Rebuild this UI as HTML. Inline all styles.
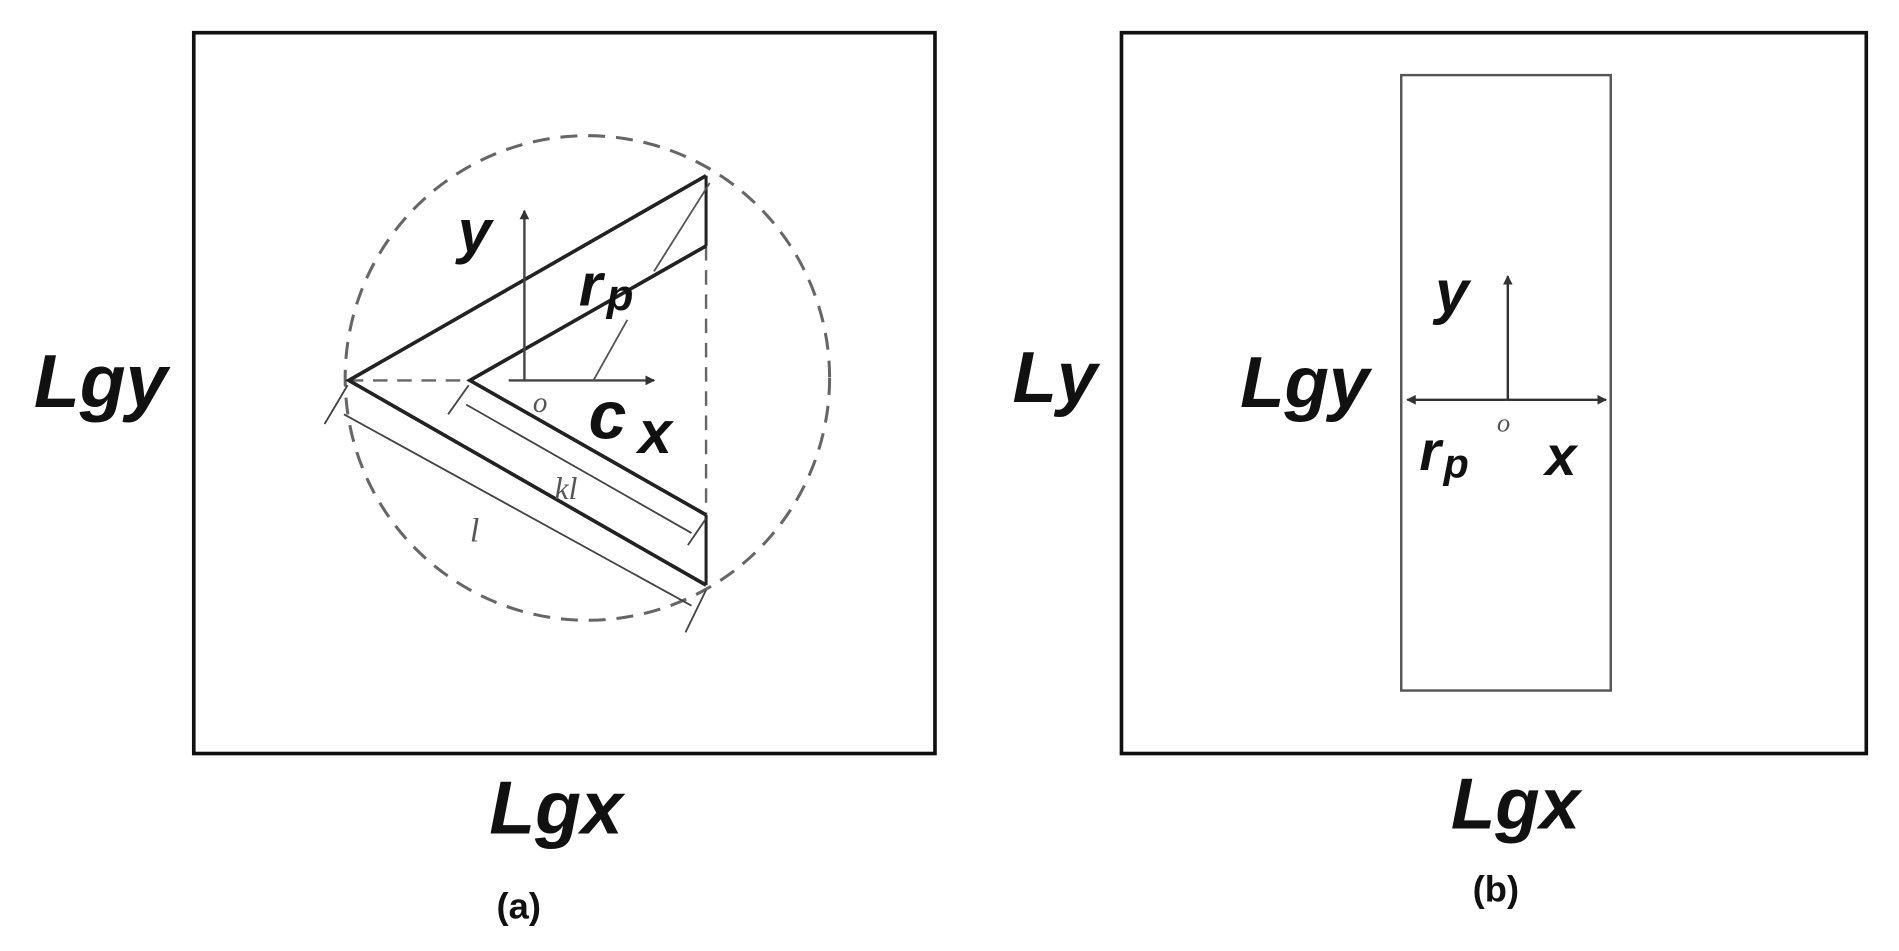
<!DOCTYPE html>
<html><head><meta charset="utf-8"><style>
html,body{margin:0;padding:0;background:#fff;width:1899px;height:951px;overflow:hidden}
svg{display:block}
.b{font-family:"Liberation Sans",sans-serif;font-weight:bold;font-style:italic;fill:#111}
.s{font-family:"Liberation Serif",serif;font-style:italic;fill:#555}
</style></head><body>
<svg width="1899" height="951" viewBox="0 0 1568 785" preserveAspectRatio="none" xmlns="http://www.w3.org/2000/svg">
<defs>
<marker id="ar" markerWidth="8" markerHeight="8" refX="7" refY="4" orient="auto" markerUnits="userSpaceOnUse"><path d="M0,0 L8,4 L0,8 z" fill="#333"/></marker>
</defs>
<!-- panel a -->
<rect x="160" y="27" width="612" height="595" fill="none" stroke="#111" stroke-width="3"/>
<circle cx="485" cy="312" r="200" fill="none" stroke="#666" stroke-width="2.5" stroke-dasharray="14,9"/>
<line x1="288" y1="314" x2="388" y2="314" stroke="#666" stroke-width="2" stroke-dasharray="12,8"/>
<line x1="583" y1="203" x2="583" y2="425" stroke="#666" stroke-width="2" stroke-dasharray="12,8"/>
<polyline points="583,145 288,314 583,483" fill="none" stroke="#222" stroke-width="3"/>
<polyline points="583,203 388,314 583,425" fill="none" stroke="#222" stroke-width="3"/>
<line x1="583" y1="145" x2="583" y2="203" stroke="#222" stroke-width="2.5"/>
<line x1="583" y1="425" x2="583" y2="483" stroke="#222" stroke-width="2.5"/>
<line x1="433" y1="314" x2="433" y2="174" stroke="#444" stroke-width="2" marker-end="url(#ar)"/>
<line x1="420" y1="314" x2="540" y2="314" stroke="#444" stroke-width="2" marker-end="url(#ar)"/>
<line x1="586" y1="151" x2="540" y2="224" stroke="#555" stroke-width="1.5"/>
<line x1="518" y1="264" x2="490" y2="314" stroke="#555" stroke-width="1.5"/>
<line x1="284" y1="342" x2="571" y2="500" stroke="#444" stroke-width="1.5"/>
<line x1="385" y1="334" x2="571" y2="440" stroke="#444" stroke-width="1.5"/>
<g stroke="#444" stroke-width="1.5">
<line x1="268" y1="350" x2="287" y2="318"/>
<line x1="370" y1="342" x2="387" y2="318"/>
<line x1="566" y1="522" x2="583" y2="487"/>
<line x1="568" y1="450" x2="583" y2="428"/>
</g>
<text class="b" x="378" y="208" font-size="50">y</text>
<text class="b" x="478" y="252" font-size="50">r</text>
<text class="b" x="501" y="256" font-size="36">p</text>
<text class="s" x="440" y="340" font-size="24">o</text>
<text class="b" x="486" y="362" font-size="56">c</text>
<text class="b" x="527" y="374" font-size="50">x</text>
<text class="s" x="458" y="412" font-size="26">kl</text>
<text class="s" x="388" y="447" font-size="28">l</text>
<text class="b" x="28" y="336" font-size="62">Lgy</text>
<text class="b" x="404" y="688" font-size="62">Lgx</text>
<text class="b" x="410" y="758" font-size="30" style="font-style:normal">(a)</text>
<!-- panel b -->
<rect x="926" y="27" width="615" height="595" fill="none" stroke="#111" stroke-width="3"/>
<rect x="1157" y="62" width="173" height="508" fill="none" stroke="#555" stroke-width="2"/>
<line x1="1244" y1="330" x2="1162" y2="330" stroke="#333" stroke-width="2" marker-end="url(#ar)"/>
<line x1="1244" y1="330" x2="1326" y2="330" stroke="#333" stroke-width="2" marker-end="url(#ar)"/>
<line x1="1245" y1="330" x2="1245" y2="228" stroke="#333" stroke-width="2" marker-end="url(#ar)"/>
<text class="b" x="1185" y="258" font-size="50">y</text>
<text class="b" x="836" y="332" font-size="60">Ly</text>
<text class="b" x="1024" y="336" font-size="60">Lgy</text>
<text class="b" x="1172" y="388" font-size="46">r</text>
<text class="b" x="1192" y="394" font-size="34">p</text>
<text class="s" x="1236" y="356" font-size="22">o</text>
<text class="b" x="1276" y="392" font-size="46">x</text>
<text class="b" x="1198" y="684" font-size="60">Lgx</text>
<text class="b" x="1216" y="744" font-size="30" style="font-style:normal">(b)</text>
</svg>
</body></html>
